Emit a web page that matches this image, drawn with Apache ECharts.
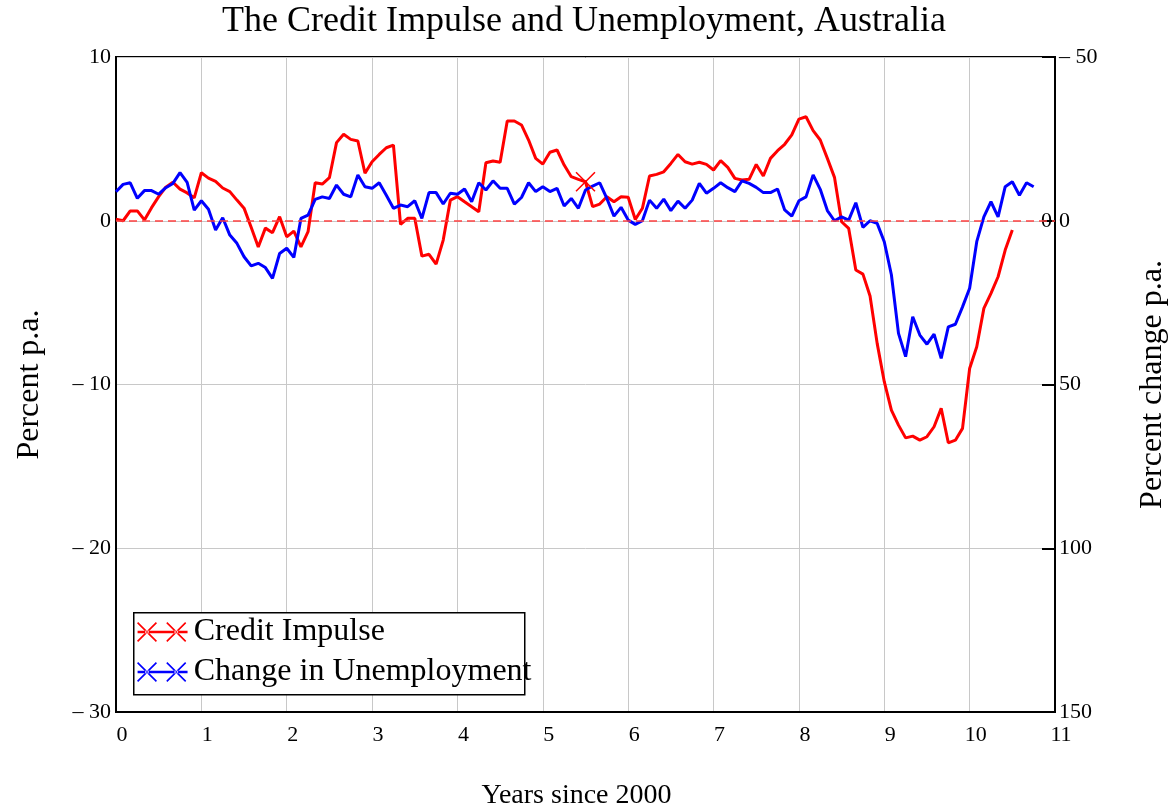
<!DOCTYPE html>
<html>
<head>
<meta charset="utf-8">
<script src="https://cdn.jsdelivr.net/npm/echarts@6/dist/echarts.min.js"></script>
<style>html,body{margin:0;padding:0;background:#fff;overflow:hidden}#c{width:1168px;height:808px}</style>
</head>
<body>
<div id="c"></div>
<script>
// Monthly observations, x = years since 2000 (index / 12)
const creditImpulse = [
 0.1, 0.0, 0.6, 0.6, 0.05, 0.8, 1.47, 2.05, 2.35, 1.93, 1.7, 1.4,
 2.93, 2.6, 2.4, 2.0, 1.78, 1.26, 0.77, -0.4, -1.6, -0.45, -0.73, 0.25,
 -0.98, -0.63, -1.59, -0.67, 2.32, 2.24, 2.63, 4.77, 5.28, 4.97, 4.87, 2.9,
 3.6, 4.05, 4.46, 4.62, -0.22, 0.15, 0.15, -2.16, -2.05, -2.65, -1.18, 1.26,
 1.47, 1.16, 0.86, 0.55, 3.54, 3.65, 3.57, 6.09, 6.09, 5.85, 4.93, 3.81,
 3.46, 4.18, 4.32, 3.4, 2.69, 2.53, 2.38, 0.86, 1.02, 1.47, 1.16, 1.47,
 1.43, 0.08, 0.76, 2.73, 2.83, 2.99, 3.5, 4.05, 3.6, 3.46, 3.57, 3.44,
 3.1, 3.67, 3.26, 2.59, 2.49, 2.53, 3.44, 2.73, 3.81, 4.28, 4.67, 5.24,
 6.21, 6.35, 5.5, 4.93, 3.81, 2.65, -0.06, -0.47, -3.01, -3.26, -4.6, -7.49,
 -9.83, -11.56, -12.48, -13.26, -13.15, -13.4, -13.19, -12.58, -11.46, -13.56, -13.4, -12.68,
 -9.02, -7.7, -5.35, -4.43, -3.42, -1.79, -0.57
];
const unemploymentChange = [
 -8.86, -11.1, -11.6, -6.84, -9.2, -9.2, -8.1, -10.1, -11.4, -14.7, -11.7, -3.27,
 -6.1, -3.5, 2.84, -0.9, 4.37, 6.9, 11, 13.8, 13, 14.3, 17.6, 10,
 8.4, 11.2, -0.7, -1.7, -6.5, -7.3, -6.8, -10.9, -8.1, -7.3, -14, -10.4,
 -9.9, -11.6, -7.8, -3.8, -4.8, -4.3, -6.1, -0.7, -8.6, -8.6, -5.1, -8.4,
 -8.1, -9.7, -5.8, -11.6, -9.4, -12.2, -9.9, -9.9, -5.1, -7.1, -11.6, -8.9,
 -10.4, -8.9, -9.9, -4.5, -6.8, -3.8, -9.4, -10.6, -11.6, -6.8, -1.4, -4.1,
 -0.2, 1.1, 0, -6.3, -3.8, -6.6, -3.1, -6.0, -3.8, -6.3, -11.4, -8.4,
 -9.9, -11.6, -10.1, -8.9, -12.2, -11.4, -10.2, -8.6, -8.6, -9.7, -3.3, -1.4,
 -6.1, -7.3, -14, -9.6, -3.1, 0, -1.2, -0.2, -5.5, 2.0, 0, 0.8,
 6.4, 16.5, 34.4, 41.5, 29.3, 34.9, 37.7, 34.6, 42, 32.4, 31.6, 26.3,
 20.6, 6.4, -1.2, -5.8, -1.2, -10.4, -11.9, -7.8, -11.6, -10.4
];
const markedIndex = 66; // single X marker on the credit impulse line
const xTicks = [0,1,2,3,4,5,6,7,8,9,10,11];
const leftTicks = [10, 0, -10, -20, -30];
const rightTicks = [-50, 0, 50, 100, 150];

const FONT = '"Liberation Serif", "DejaVu Serif", serif';
const fmtMinus = v => (v < 0 ? '\u2013 ' + Math.abs(v) : String(v));

const toXY = arr => arr.map((v, i) => [i / 12, v]);

function diag(x0, y0, x1, y1, t) {
  const dx = x1 - x0, dy = y1 - y0, L = Math.hypot(dx, dy);
  const nx = -dy / L * t / 2, ny = dx / L * t / 2;
  return 'M' + (x0 + nx) + ',' + (y0 + ny) + 'L' + (x1 + nx) + ',' + (y1 + ny) +
         'L' + (x1 - nx) + ',' + (y1 - ny) + 'L' + (x0 - nx) + ',' + (y0 - ny) + 'Z';
}
const xMark = (cx, cy, r, t) => diag(cx - r, cy - r, cx + r, cy + r, t) + diag(cx - r, cy + r, cx + r, cy - r, t);
const legendIcon = 'path://' + 'M0,8.6L53,8.6L53,11.4L0,11.4Z' + xMark(10, 10, 10, 1.7) + xMark(41, 10, 10, 1.7);
const xIcon = 'path://' + xMark(10, 10, 10, 1.6);

const chart = echarts.init(document.getElementById('c'), null, {renderer: 'canvas'});
chart.setOption({
  animation: false,
  backgroundColor: '#fff',
  title: {
    text: 'The Credit Impulse and Unemployment, Australia',
    left: 'center', top: -1,
    textStyle: {fontFamily: FONT, fontSize: 36, fontWeight: 'normal', color: '#000'}
  },
  grid: {left: 116, right: 113, top: 57, bottom: 96, containLabel: false, outerBoundsMode: 'none',
    show: true, borderColor: '#000', borderWidth: 2, backgroundColor: 'transparent'},
  legend: {
    orient: 'vertical', left: 133, top: 612,
    data: ['Credit Impulse', 'Change in Unemployment'],
    icon: legendIcon, itemWidth: 53, itemHeight: 20, itemGap: 8,
    padding: [4, 4, 4, 4],
    textStyle: {fontFamily: FONT, fontSize: 32, color: '#000'},
    z: 10
  },
  graphic: [{
    type: 'rect', left: 133, top: 612, shape: {width: 391, height: 82},
    style: {fill: '#fff', stroke: '#000', lineWidth: 1.5}, z: 9
  }],
  xAxis: {
    type: 'value', min: 0, max: 11, interval: 1,
    name: 'Years since 2000', nameLocation: 'middle', nameGap: 70,
    nameTextStyle: {fontFamily: FONT, fontSize: 28, color: '#000', padding: [0, 18, 0, 0]},
    axisLine: {onZero: false, lineStyle: {color: '#000', width: 2}},
    axisTick: {show: false},
    axisLabel: {fontFamily: FONT, fontSize: 22, color: '#000', margin: 12, padding: [0, 0, 0, 12],
      formatter: v => (xTicks.indexOf(v) >= 0 ? String(v) : '')},
    splitLine: {show: true, lineStyle: {color: '#c8c8c8', width: 1}}
  },
  yAxis: [{
    type: 'value', min: -30, max: 10, interval: 10, position: 'left',
    name: 'Percent p.a.', nameLocation: 'middle', nameGap: 70, nameRotate: 90,
    nameTextStyle: {fontFamily: FONT, fontSize: 32, color: '#000'},
    axisLine: {show: true, onZero: false, lineStyle: {color: '#000', width: 2}},
    axisTick: {show: false},
    axisLabel: {fontFamily: FONT, fontSize: 22, color: '#000', margin: 5,
      formatter: v => (leftTicks.indexOf(v) >= 0 ? fmtMinus(v) : '')},
    splitLine: {show: true, lineStyle: {color: '#c8c8c8', width: 1}}
  }, {
    type: 'value', min: -50, max: 150, interval: 50, inverse: true, position: 'right',
    name: 'Percent change p.a.', nameLocation: 'middle', nameGap: 82, nameRotate: 90,
    nameTextStyle: {fontFamily: FONT, fontSize: 32, color: '#000'},
    axisLine: {show: true, onZero: false, lineStyle: {color: '#000', width: 2}},
    axisTick: {show: true, inside: true, length: 13, lineStyle: {color: '#000', width: 2}},
    axisLabel: {fontFamily: FONT, fontSize: 22, color: '#000', margin: 4,
      formatter: v => (rightTicks.indexOf(v) >= 0 ? fmtMinus(v) : '')},
    splitLine: {show: false}
  }, {
    type: 'value', min: -50, max: 150, interval: 50, inverse: true, position: 'right',
    axisLine: {show: false, onZero: false}, axisTick: {show: false}, splitLine: {show: false},
    axisLabel: {inside: true, fontFamily: FONT, fontSize: 22, color: '#000', margin: 3,
      formatter: v => (v === 0 ? '0' : '')}
  }],
  series: [{
    name: 'Credit Impulse', type: 'line', yAxisIndex: 0,
    data: toXY(creditImpulse), showSymbol: false, symbol: 'none',
    lineStyle: {color: '#ff0000', width: 3}, itemStyle: {color: '#ff0000'},
    z: 3,
    markLine: {
      silent: true, symbol: 'none', label: {show: false},
      lineStyle: {color: '#ff4040', width: 1.5, type: [8, 5], opacity: 1},
      data: [{yAxis: 0}]
    }
  }, {
    name: 'Change in Unemployment', type: 'line', yAxisIndex: 1,
    data: toXY(unemploymentChange), showSymbol: false, symbol: 'none',
    lineStyle: {color: '#0000ff', width: 3}, itemStyle: {color: '#0000ff'},
    z: 4
  }, {
    name: 'marker', type: 'scatter', yAxisIndex: 0,
    data: [[markedIndex / 12, creditImpulse[markedIndex]]],
    symbol: xIcon, symbolSize: 20, itemStyle: {color: '#ff0000', opacity: 1}, z: 5
  }]
});
</script>
</body>
</html>
